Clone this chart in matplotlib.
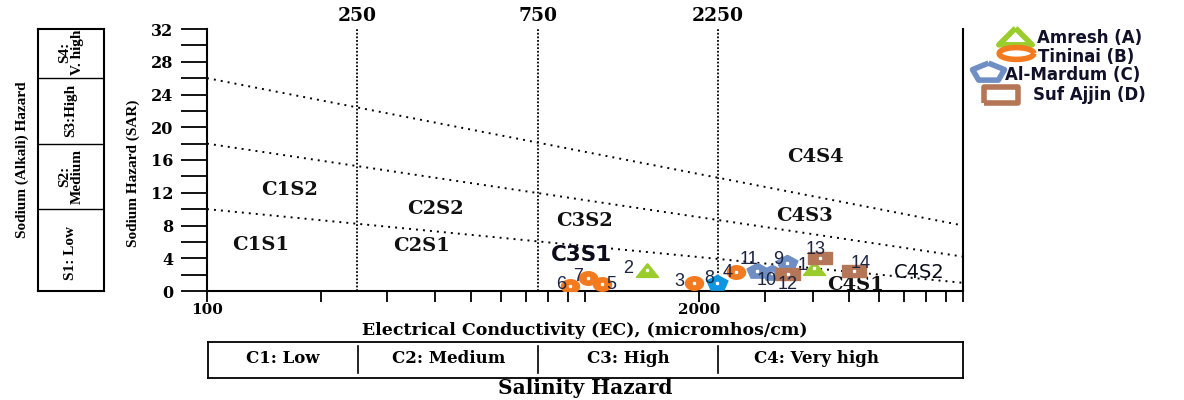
import numpy as np
import matplotlib
matplotlib.use("Agg")
import matplotlib.pyplot as plt

# sample points: EC (micromhos/cm) and SAR per well group
amresh_ids = [1, 2]
amresh_ec = [4040, 1455]
amresh_sar = [2.8, 2.6]

tininai_ids = [3, 4, 5, 6, 7]
tininai_ec = [1940, 2505, 1110, 910, 1020]
tininai_sar = [1.0, 2.3, 0.85, 0.6, 1.6]

mardum_ids = [8, 9, 10, 11]
mardum_ec = [2230, 3425, 3125, 2850]
mardum_sar = [1.0, 3.4, 2.2, 2.45]

sufajjin_ids = [12, 13, 14]
sufajjin_ec = [3445, 4190, 5160]
sufajjin_sar = [2.1, 4.0, 2.45]

# class boundaries of the diagram
ec_limits = [250, 750, 2250]
sar_left = [10, 18, 26]      # boundary SAR at EC = 100
sar_right = [1.0, 4.2, 8.0]  # boundary SAR at EC = 10000

zone_names = ["C1S1", "C1S2", "C2S1", "C2S2", "C3S2", "C4S4", "C4S3", "C4S1"]
zone_ec = [139, 165, 370, 403, 995, 4060, 3812, 5203]
zone_sar = [5.6, 12.3, 5.5, 10.0, 8.5, 16.4, 9.2, 0.73]

salinity_classes = ["C1: Low", "C2: Medium", "C3: High", "C4: Very high"]
sodium_classes = ["S1: Low", "S2:\nMedium", "S3:High", "S4:\nV. high"]

SERIF = "DejaVu Serif"
VSERIF = "Liberation Serif"

fig = plt.figure(figsize=(11.84, 4.0), dpi=100)


def px(x0, y0, x1, y1):
    return [x0 / 1184, 1 - y1 / 400, (x1 - x0) / 1184, (y1 - y0) / 400]


def squash(verts, sy):
    return [(x, y * sy) for x, y in verts]


ax = fig.add_axes(px(207, 29, 963, 291))
ax.set_xscale("log")
ax.set_xlim(100, 10000)
ax.set_ylim(0, 32)
ax.spines["top"].set_visible(False)
for s in ["left", "right", "bottom"]:
    ax.spines[s].set_linewidth(1.5)

# x ticks at every log step, labelled only at 100 and 2000
xt = [m * 10 ** d for d in (2, 3) for m in range(1, 10)] + [10000]
ax.set_xticks(xt)
ax.set_xticklabels(["100" if v == 100 else "2000" if v == 2000 else "" for v in xt],
                   fontfamily=SERIF, fontweight="bold", fontsize=11)
ax.xaxis.set_minor_locator(plt.NullLocator())
ax.tick_params(axis="x", direction="out", length=8, width=1.3, pad=1)

ax.set_yticks(np.arange(0, 33, 2))
ax.set_yticklabels([str(v) if v % 4 == 0 else "" for v in range(0, 33, 2)],
                   fontfamily=SERIF, fontweight="bold", fontsize=11.5)
ax.tick_params(axis="y", direction="out", length=19, width=1.3, pad=5)

ax.set_xlabel("Electrical Conductivity (EC), (micromhos/cm)", fontfamily=SERIF,
              fontweight="bold", fontsize=12.5)
ax.xaxis.set_label_coords(378 / 756, -31 / 262)
ax.set_ylabel("Sodium Hazard (SAR)", fontfamily=VSERIF, fontweight="bold",
              fontsize=11)
ax.yaxis.set_label_coords(-67 / 756, 118 / 262)

# sloping sodium boundaries and vertical salinity boundaries
for a, b in zip(sar_left, sar_right):
    ax.plot([100, 10000], [a, b], color="black", lw=1.4, ls=(0, (1, 2.6)))
for e in ec_limits:
    ax.plot([e, e], [0, 32], color="black", lw=1.3, ls=(0, (1, 1)))
    ax.text(e, 32.5, str(e), ha="center", va="bottom", fontfamily=SERIF,
            fontweight="bold", fontsize=13.5)

for name, e, s in zip(zone_names, zone_ec, zone_sar):
    ax.text(e, s, name, ha="center", va="center", fontfamily=SERIF,
            fontweight="bold", fontsize=14, color="#111111")
ax.text(979, 4.4, "C3S1", ha="center", va="center", fontfamily="DejaVu Sans",
        fontweight="bold", fontsize=15.5, color="#0b0b1a")
ax.text(7661, 2.2, "C4S2", ha="center", va="center", fontfamily="DejaVu Sans",
        fontsize=14, color="#0b0b1a")

# marker shapes
green = "#9ACD2C"
orange = "#F47A1F"
blue = "#6F8FC4"
brown = "#B47656"
tri = [(0, 1), (-1, -1), (1, -1), (0, 1)]
oval = [(np.cos(t), np.sin(t)) for t in np.linspace(0, 2 * np.pi, 40)]
pent = [(np.cos(a), np.sin(a)) for a in np.pi / 2 + np.arange(6) * 2 * np.pi / 5]
rect = [(-1, -1), (1, -1), (1, 1), (-1, 1), (-1, -1)]

ax.plot(amresh_ec, amresh_sar, ls="none", marker=squash(tri, 0.62), ms=16, color=green, zorder=4)
ax.plot(tininai_ec, tininai_sar, ls="none", marker=squash(oval, 0.75), ms=13, color=orange, zorder=4)
ax.plot(mardum_ec[1:], mardum_sar[1:], ls="none", marker=squash(pent, 0.75), ms=15, color=blue, zorder=4)
ax.plot(mardum_ec[:1], mardum_sar[:1], ls="none", marker=squash(pent, 0.75), ms=15, color="#0E97E0", zorder=4)
ax.plot(sufajjin_ec, sufajjin_sar, ls="none", marker=squash(rect, 0.55), ms=17, color=brown, zorder=4)
all_ec = amresh_ec + tininai_ec + mardum_ec + sufajjin_ec
all_sar = amresh_sar + tininai_sar + mardum_sar + sufajjin_sar
all_ids = amresh_ids + tininai_ids + mardum_ids + sufajjin_ids
ax.plot(all_ec, all_sar, ls="none", marker="s", ms=1.4, color="white", zorder=5)

# sample number offsets in pixels
label_off = {1: (-12, 3), 2: (-18, 1), 3: (-14, 1), 4: (-8, 0), 5: (9, 0),
             6: (-8, 2), 7: (-10, 1), 8: (-7, 4), 9: (-9, 4), 10: (-5, -8),
             11: (-8, 11), 12: (0, -11), 13: (-5, 9), 14: (6, 7)}
for i, e, s in zip(all_ids, all_ec, all_sar):
    ax.annotate(str(i), (e, s), xytext=label_off[i], textcoords="offset pixels",
                ha="center", va="center", fontfamily="Liberation Sans",
                fontsize=13, color="#1c2440", zorder=6)

# sodium hazard class box on the left
sb = fig.add_axes(px(38, 29, 104, 291))
sb.set_xlim(0, 1)
sb.set_ylim(0, 32)
sb.set_xticks([])
sb.set_yticks([])
for s in sb.spines.values():
    s.set_linewidth(1.5)
for a in sar_left:
    sb.axhline(a, color="black", lw=1.0)
sb_mid = [4.6, 14, 22, 29.2]
for txt, m in zip(sodium_classes, sb_mid):
    sb.text(0.5, m, txt, rotation=90, ha="center", va="center", fontfamily=VSERIF,
            fontweight="bold", fontsize=11, linespacing=1.0)
fig.text(22 / 1184, 1 - 160 / 400, "Sodium (Alkali) Hazard", rotation=90, ha="center",
         va="center", fontfamily=VSERIF, fontweight="bold", fontsize=11)

# salinity hazard class box below
cb = fig.add_axes(px(208, 342, 963, 378))
cb.set_xscale("log")
cb.set_xlim(100, 10000)
cb.set_ylim(0, 1)
cb.set_xticks([])
cb.set_yticks([])
cb.xaxis.set_minor_locator(plt.NullLocator())
for s in cb.spines.values():
    s.set_linewidth(1.3)
for e in ec_limits:
    cb.plot([e, e], [0.15, 0.88], color="black", lw=1.2)
cb_mid = [158, 433, 1299, 4100]
for txt, m in zip(salinity_classes, cb_mid):
    cb.text(m, 0.55, txt, ha="center", va="center", fontfamily=SERIF,
            fontweight="bold", fontsize=12)
fig.text(585 / 1184, 1 - 388 / 400, "Salinity Hazard", ha="center", va="center",
         fontfamily=SERIF, fontweight="bold", fontsize=14.5)

# legend drawn in pixel space at the right
lg = fig.add_axes(px(960, 25, 1184, 105))
lg.set_xlim(960, 1184)
lg.set_ylim(105, 25)
lg.axis("off")
leg_names = ["Amresh (A)", "Tininai (B)", "Al-Mardum (C)", "Suf Ajjin (D)"]
leg_markers = [squash(tri, 0.5), squash(oval, 0.34), squash(pent, 0.56), squash(rect, 0.45)]
leg_colors = [green, orange, blue, brown]
leg_mx = [1015, 1016, 988, 1001]
leg_tx = [1037, 1038, 1005, 1033]
leg_my = [36, 53, 72, 95]
leg_ty = [38, 57, 75, 95]
leg_ms = [24, 25, 23, 25]
for n, mk, c, mx, tx, my, ty, ms in zip(leg_names, leg_markers, leg_colors, leg_mx,
                                        leg_tx, leg_my, leg_ty, leg_ms):
    lg.plot([mx], [my], marker=mk, ms=ms, mfc="white", mec=c, mew=4, ls="none")
    lg.text(tx, ty, n, ha="left", va="center", fontfamily="DejaVu Sans",
            fontweight="bold", fontsize=12, color="#101028")

fig.savefig("out.png", dpi=100)
